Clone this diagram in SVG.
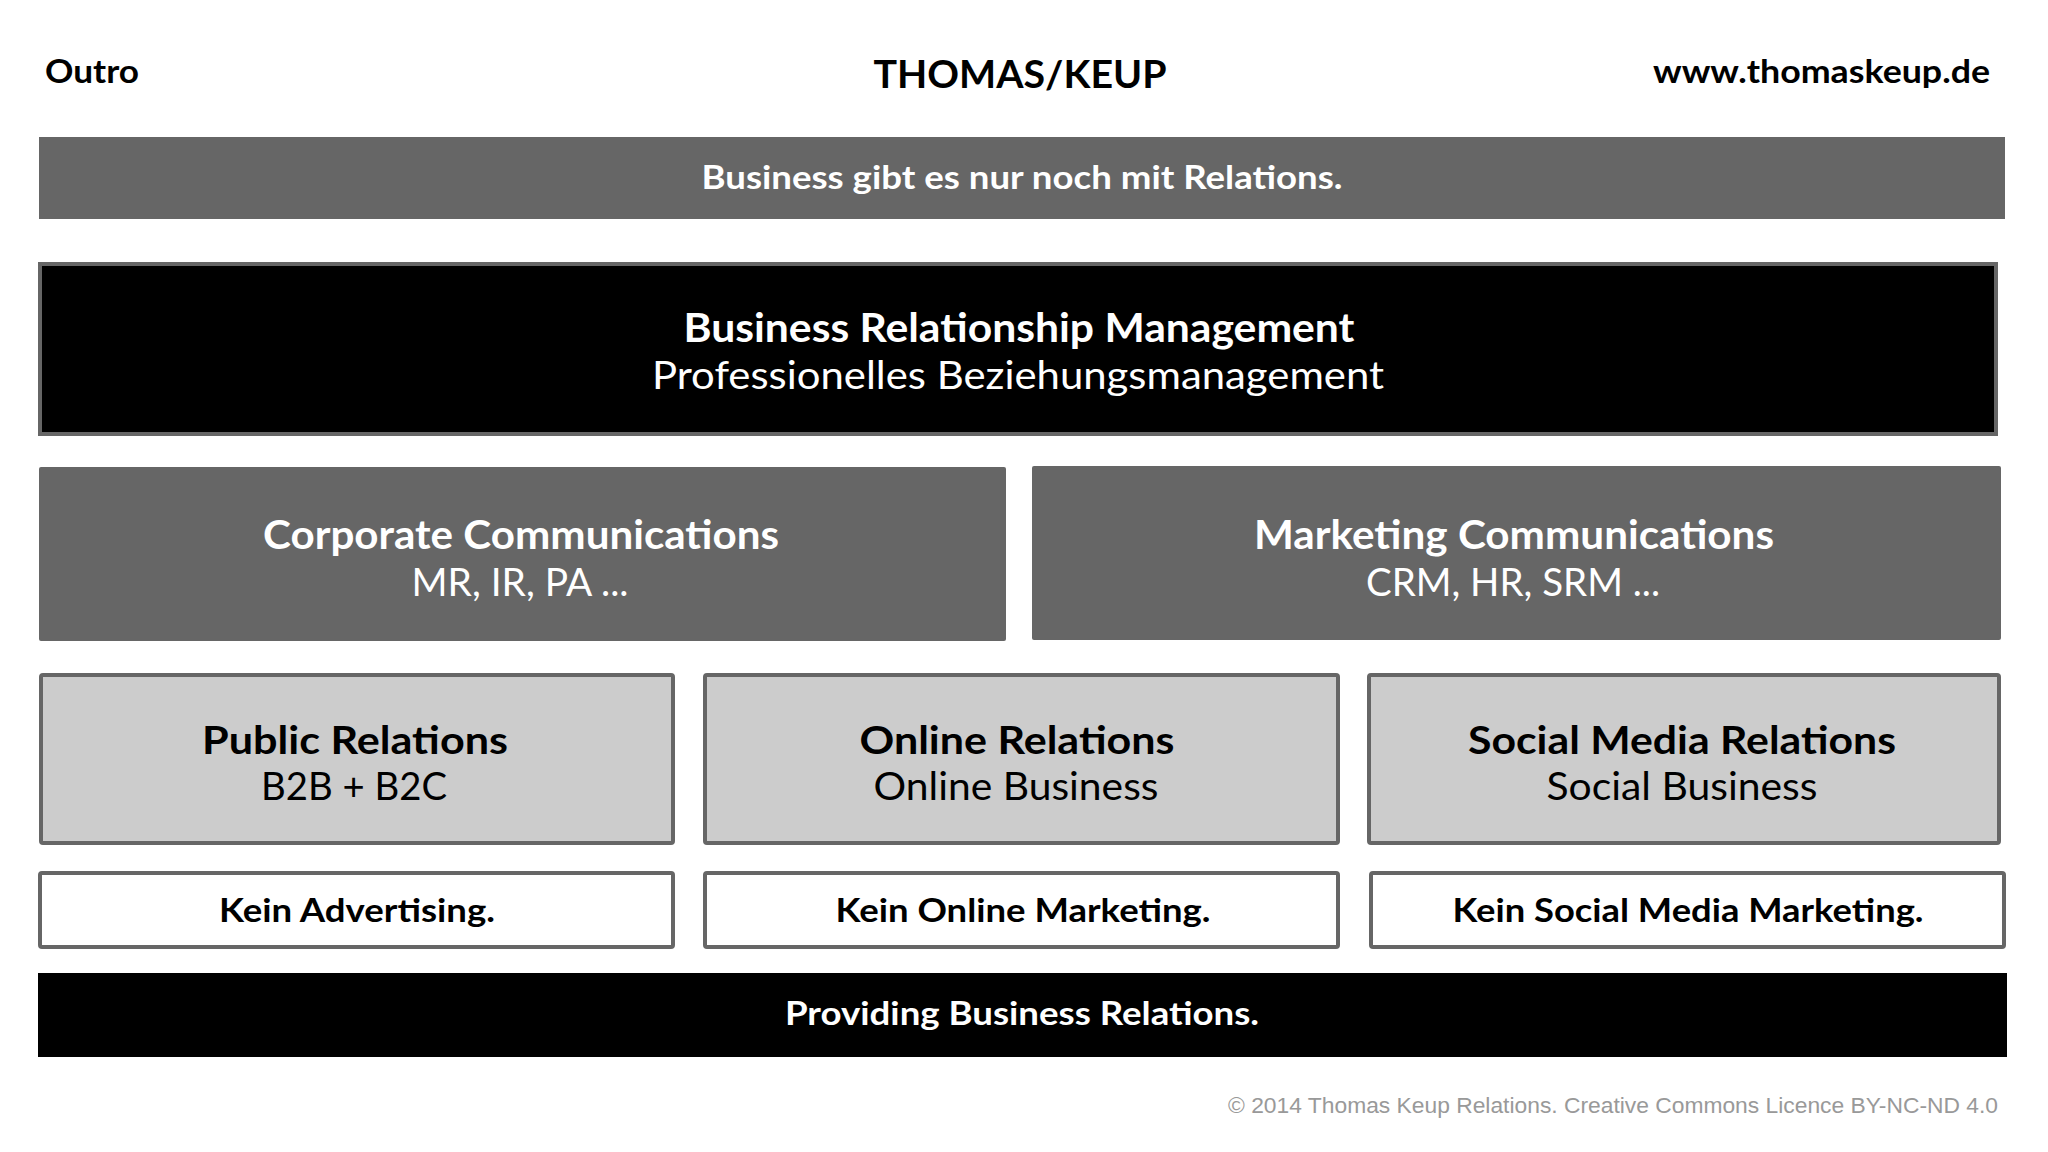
<svg xmlns="http://www.w3.org/2000/svg" width="2048" height="1152" viewBox="0 0 2048 1152">
<style>
text{font-family:Lato,"Open Sans","Liberation Sans",sans-serif;text-anchor:middle}
.b{font-weight:700}
.r{font-weight:400}
.w{fill:#ffffff}
.k{fill:#000000}
.dark{fill:#666666}
.blk{fill:#000000;stroke:#666666;stroke-width:4}
.light{fill:#cccccc;stroke:#666666;stroke-width:4}
.white{fill:#ffffff;stroke:#666666;stroke-width:4}
.foot{font-family:"Liberation Sans",Arial,sans-serif;fill:#999999;text-anchor:end}
</style>
<rect width="2048" height="1152" fill="#ffffff"/>
<g id="header">
<text class="b k" x="45" y="83" font-size="33" style="text-anchor:start" textLength="94" lengthAdjust="spacingAndGlyphs">Outro</text>
<text class="b k" x="1020" y="88" font-size="38" textLength="293" lengthAdjust="spacingAndGlyphs">THOMAS/KEUP</text>
<text class="b k" x="1990" y="83" font-size="33" style="text-anchor:end" textLength="337" lengthAdjust="spacingAndGlyphs">www.thomaskeup.de</text>
</g>
<g id="top-bar">
<rect class="dark" x="39" y="137" width="1966" height="82"/>
<text class="b w" x="1022" y="189" font-size="32" textLength="641" lengthAdjust="spacingAndGlyphs">Business gibt es nur noch mit Relations.</text>
</g>
<g id="brm">
<rect class="blk" x="40" y="264" width="1956" height="170"/>
<text class="b w" x="1019" y="342" font-size="40" textLength="671" lengthAdjust="spacingAndGlyphs">Business Relationship Management</text>
<text class="r w" x="1018" y="389" font-size="39" textLength="732" lengthAdjust="spacingAndGlyphs">Professionelles Beziehungsmanagement</text>
</g>
<g id="corporate">
<rect class="dark" x="39" y="467" width="967" height="174" rx="2"/>
<text class="b w" x="521" y="549" font-size="40" textLength="516" lengthAdjust="spacingAndGlyphs">Corporate Communications</text>
<text class="r w" x="520" y="596" font-size="39" textLength="217" lengthAdjust="spacingAndGlyphs">MR, IR, PA ...</text>
</g>
<g id="marketing">
<rect class="dark" x="1032" y="466" width="969" height="174" rx="2"/>
<text class="b w" x="1514" y="549" font-size="40" textLength="520" lengthAdjust="spacingAndGlyphs">Marketing Communications</text>
<text class="r w" x="1513" y="596" font-size="39" textLength="294" lengthAdjust="spacingAndGlyphs">CRM, HR, SRM ...</text>
</g>
<g id="public-relations">
<rect class="light" x="41" y="675" width="632" height="168" rx="2"/>
<text class="b k" x="355" y="754" font-size="39" textLength="306" lengthAdjust="spacingAndGlyphs">Public Relations</text>
<text class="r k" x="354" y="800" font-size="38" textLength="186" lengthAdjust="spacingAndGlyphs">B2B + B2C</text>
</g>
<g id="online-relations">
<rect class="light" x="705" y="675" width="633" height="168" rx="2"/>
<text class="b k" x="1017" y="754" font-size="39" textLength="315" lengthAdjust="spacingAndGlyphs">Online Relations</text>
<text class="r k" x="1016" y="800" font-size="38" textLength="285" lengthAdjust="spacingAndGlyphs">Online Business</text>
</g>
<g id="social-media-relations">
<rect class="light" x="1369" y="675" width="630" height="168" rx="2"/>
<text class="b k" x="1682" y="754" font-size="39" textLength="428" lengthAdjust="spacingAndGlyphs">Social Media Relations</text>
<text class="r k" x="1682" y="800" font-size="38" textLength="271" lengthAdjust="spacingAndGlyphs">Social Business</text>
</g>
<g id="kein-advertising">
<rect class="white" x="40" y="873" width="633" height="74" rx="2"/>
<text class="b k" x="357" y="922" font-size="32" textLength="276" lengthAdjust="spacingAndGlyphs">Kein Advertising.</text>
</g>
<g id="kein-online-marketing">
<rect class="white" x="705" y="873" width="633" height="74" rx="2"/>
<text class="b k" x="1023" y="922" font-size="32" textLength="375" lengthAdjust="spacingAndGlyphs">Kein Online Marketing.</text>
</g>
<g id="kein-social-media-marketing">
<rect class="white" x="1371" y="873" width="633" height="74" rx="2"/>
<text class="b k" x="1688" y="922" font-size="32" textLength="471" lengthAdjust="spacingAndGlyphs">Kein Social Media Marketing.</text>
</g>
<g id="bottom-bar">
<rect fill="#000000" x="38" y="973" width="1969" height="84"/>
<text class="b w" x="1022" y="1025" font-size="32" textLength="474" lengthAdjust="spacingAndGlyphs">Providing Business Relations.</text>
</g>
<g id="connectors"></g>
<g id="footer">
<text class="foot" x="1998" y="1113" font-size="22" textLength="770" lengthAdjust="spacingAndGlyphs">© 2014 Thomas Keup Relations. Creative Commons Licence BY-NC-ND 4.0</text>
</g>
</svg>
